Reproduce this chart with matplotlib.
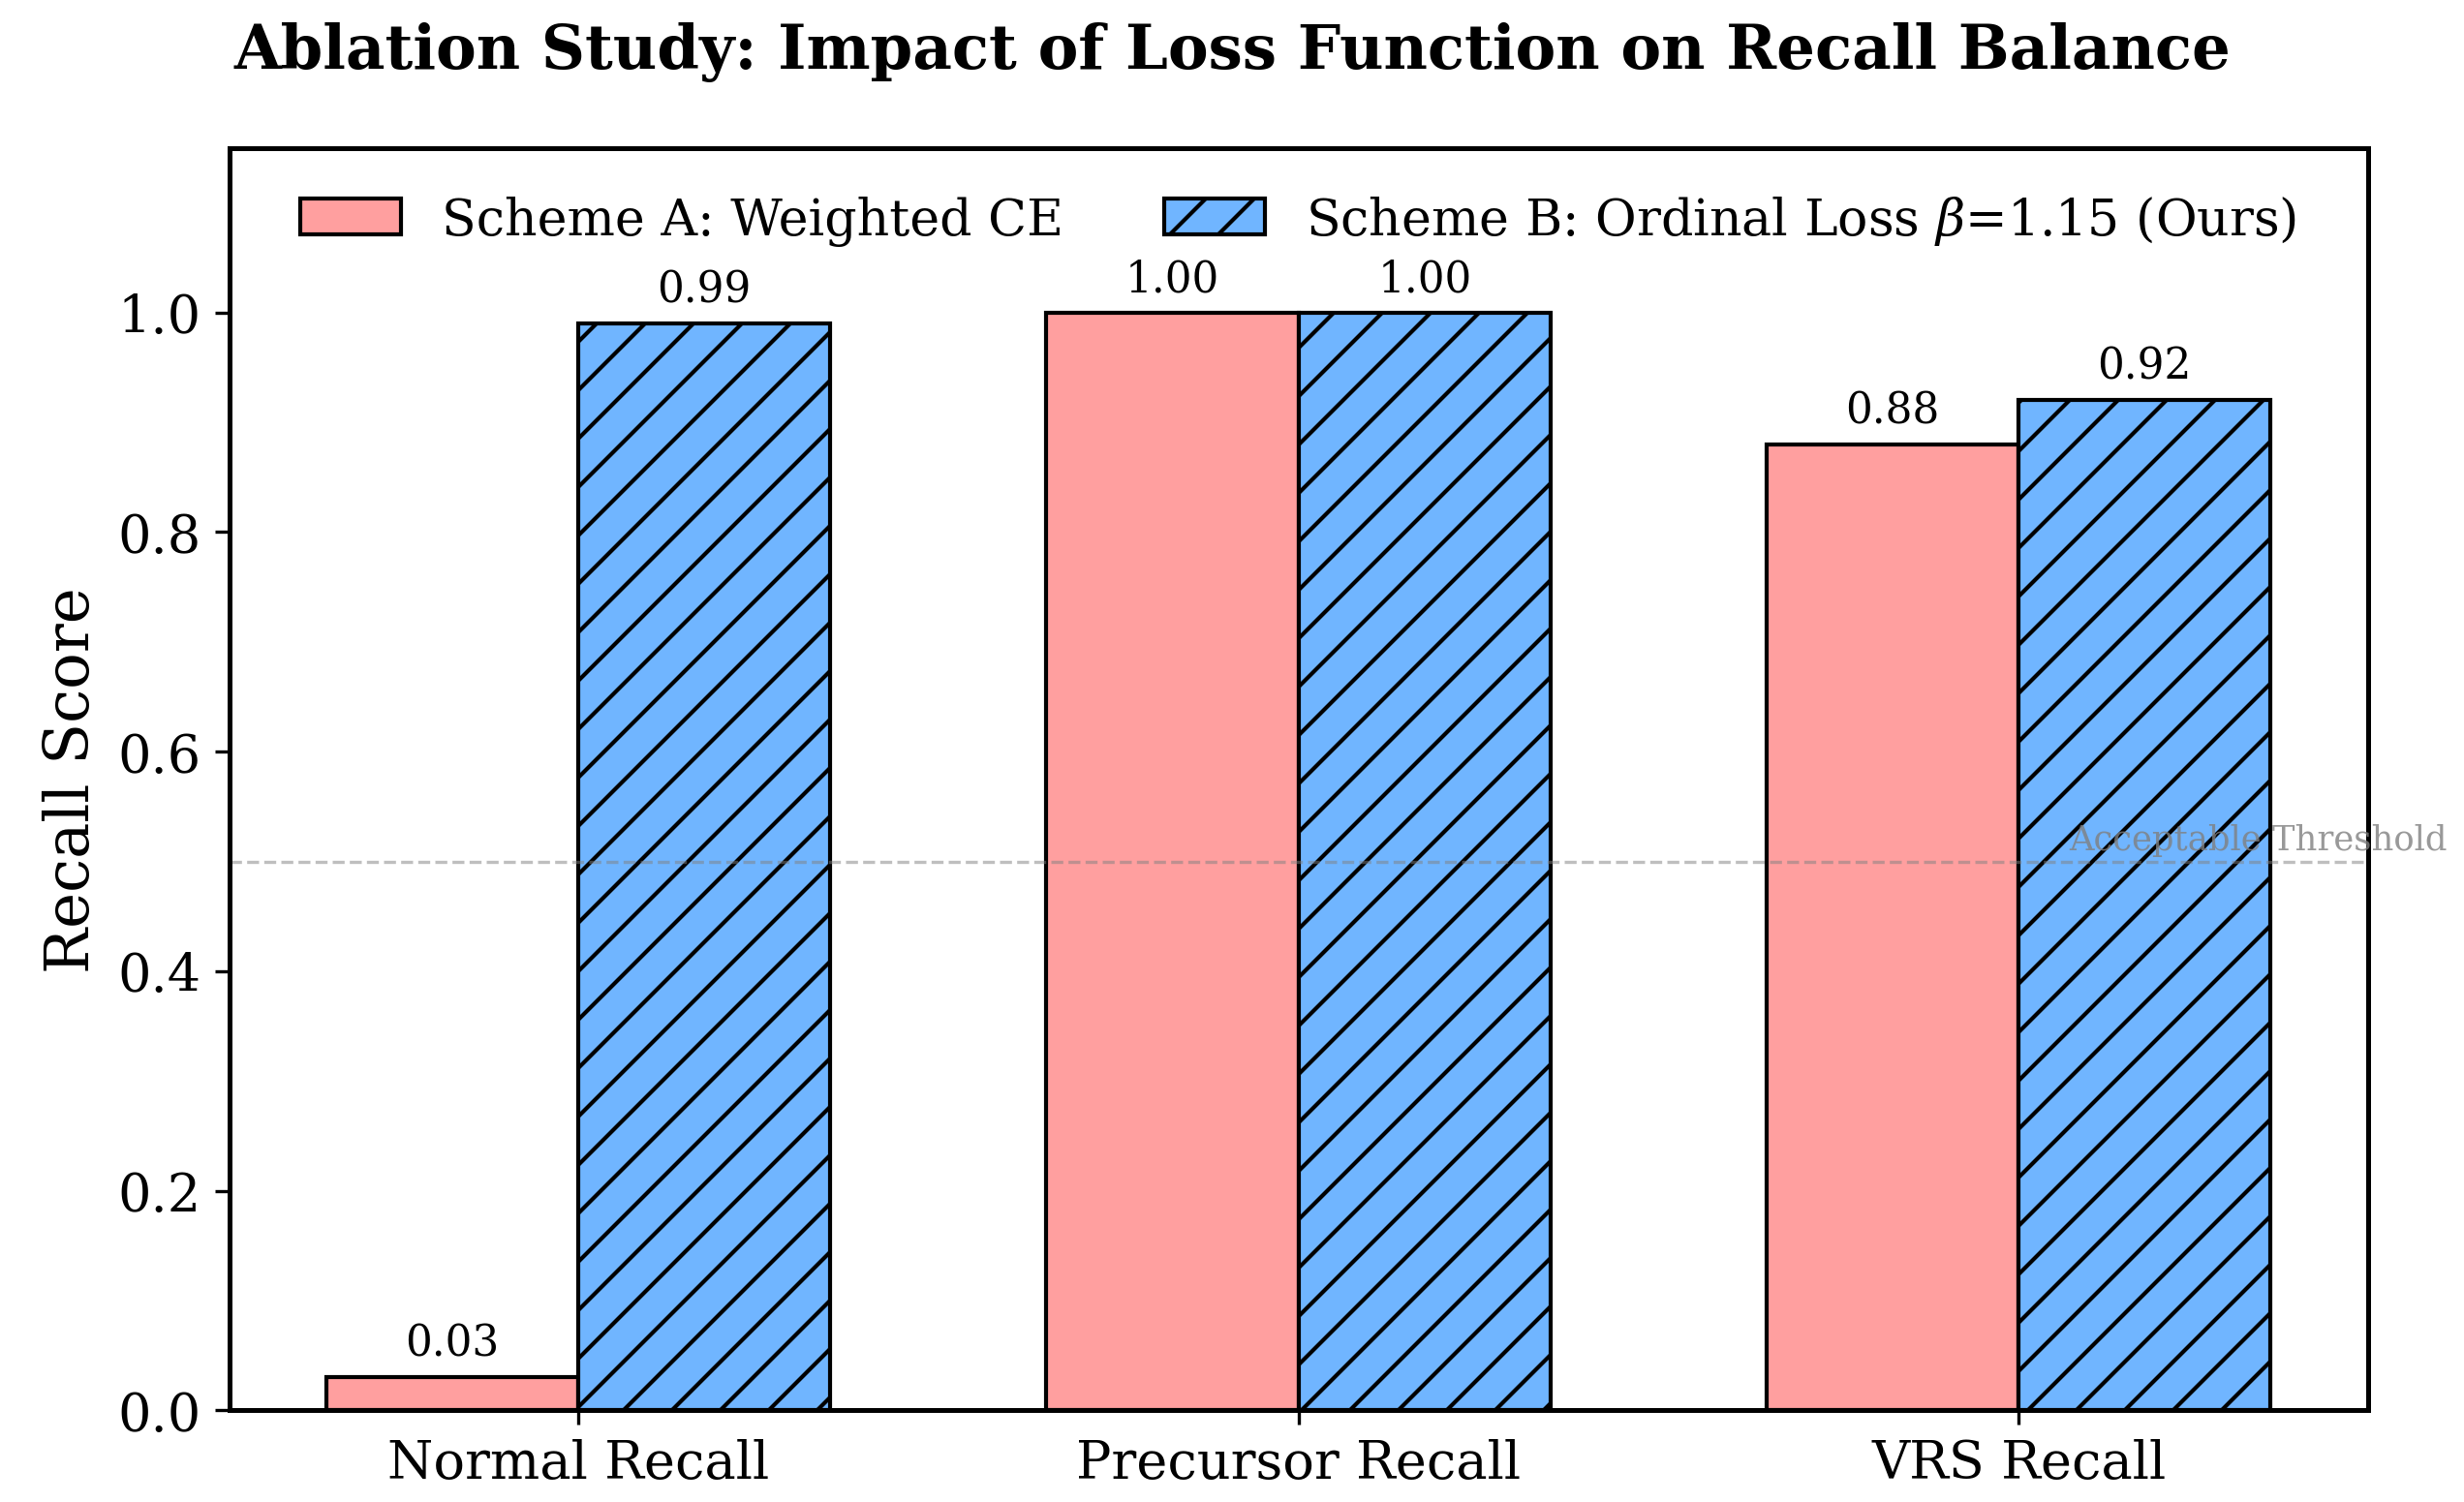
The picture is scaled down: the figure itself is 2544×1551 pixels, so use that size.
import numpy as np
import matplotlib
matplotlib.use('Agg')
import matplotlib.pyplot as plt

categories = ['Normal Recall', 'Precursor Recall', 'VRS Recall']
scheme_a = [0.03, 1.00, 0.88]
scheme_b = [0.99, 1.00, 0.92]
label_a = 'Scheme A: Weighted CE'
label_b = r'Scheme B: Ordinal Loss $\beta$=1.15 (Ours)'

plt.rcParams['font.family'] = 'DejaVu Serif'
plt.rcParams['mathtext.fontset'] = 'dejavuserif'

fig = plt.figure(figsize=(8.48, 5.173), dpi=300)
ax = fig.add_axes([0.093, 0.061, 0.868, 0.840])

x = np.arange(len(categories))
w = 0.35
bars_a = ax.bar(x - w/2, scheme_a, w, color='#ff9f9f', edgecolor='black', linewidth=1, label=label_a)
bars_b = ax.bar(x + w/2, scheme_b, w, color='#70b5ff', edgecolor='black', linewidth=1, hatch='//', label=label_b)

for bars in (bars_a, bars_b):
    for b in bars:
        h = b.get_height()
        ax.text(b.get_x() + b.get_width()/2, h + 0.012, f'{h:.2f}', ha='center', va='bottom', fontsize=10.5)

ax.axhline(0.5, color='gray', linestyle='--', linewidth=0.8, alpha=0.5)
ax.text(2.07, 0.505, 'Acceptable Threshold', color='gray', fontsize=8.5, alpha=0.8, va='bottom')

ax.set_ylim(0, 1.15)
ax.set_xticks(x)
ax.set_xticklabels(categories, fontsize=13)
ax.tick_params(axis='y', labelsize=13)
ax.set_ylabel('Recall Score', fontsize=15)
for s in ax.spines.values():
    s.set_linewidth(1.2)
fig.suptitle('Ablation Study: Impact of Loss Function on Recall Balance', fontsize=15, fontweight='bold', y=0.985)
ax.legend(loc='upper center', ncol=2, frameon=False, fontsize=12.5)

fig.savefig('out.png', dpi=300)
